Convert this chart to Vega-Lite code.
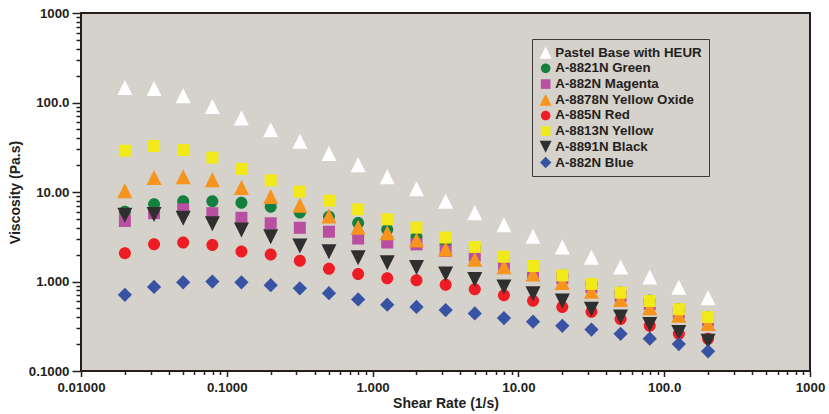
{
  "$schema": "https://vega.github.io/schema/vega-lite/v6.json",
  "width": 729,
  "height": 358,
  "autosize": {"type": "none"},
  "padding": {"left": 81, "top": 13, "right": 19, "bottom": 43},
  "background": "#ffffff",
  "config": {
    "view": {"fill": "#d5d1cb", "stroke": "#231f20", "strokeWidth": 2},
    "font": "Liberation Sans",
    "axis": {
      "grid": false,
      "domain": false,
      "labelFlush": false,
      "labelOverlap": false,
      "tickColor": "#231f20",
      "tickWidth": 1.5,
      "labelFont": "Liberation Sans",
      "labelFontSize": 13.3,
      "labelFontWeight": "bold",
      "labelColor": "#231f20",
      "titleFont": "Liberation Sans",
      "titleFontSize": 14,
      "titleFontWeight": "bold",
      "titleColor": "#231f20"
    }
  },
  "data": {
    "values": [
      {"series": "Pastel Base with HEUR", "rate": 0.02, "viscosity": 147},
      {"series": "Pastel Base with HEUR", "rate": 0.0317, "viscosity": 143},
      {"series": "Pastel Base with HEUR", "rate": 0.0502, "viscosity": 119},
      {"series": "Pastel Base with HEUR", "rate": 0.0796, "viscosity": 90},
      {"series": "Pastel Base with HEUR", "rate": 0.126, "viscosity": 67},
      {"series": "Pastel Base with HEUR", "rate": 0.2, "viscosity": 49.7},
      {"series": "Pastel Base with HEUR", "rate": 0.317, "viscosity": 37},
      {"series": "Pastel Base with HEUR", "rate": 0.502, "viscosity": 27},
      {"series": "Pastel Base with HEUR", "rate": 0.796, "viscosity": 20.1},
      {"series": "Pastel Base with HEUR", "rate": 1.26, "viscosity": 14.8},
      {"series": "Pastel Base with HEUR", "rate": 2, "viscosity": 10.9},
      {"series": "Pastel Base with HEUR", "rate": 3.17, "viscosity": 7.9},
      {"series": "Pastel Base with HEUR", "rate": 5.02, "viscosity": 5.86},
      {"series": "Pastel Base with HEUR", "rate": 7.96, "viscosity": 4.3},
      {"series": "Pastel Base with HEUR", "rate": 12.6, "viscosity": 3.2},
      {"series": "Pastel Base with HEUR", "rate": 20, "viscosity": 2.43},
      {"series": "Pastel Base with HEUR", "rate": 31.7, "viscosity": 1.87},
      {"series": "Pastel Base with HEUR", "rate": 50.2, "viscosity": 1.45},
      {"series": "Pastel Base with HEUR", "rate": 79.6, "viscosity": 1.12},
      {"series": "Pastel Base with HEUR", "rate": 126, "viscosity": 0.86},
      {"series": "Pastel Base with HEUR", "rate": 200, "viscosity": 0.66},

      {"series": "A-8821N Green", "rate": 0.02, "viscosity": 6.0},
      {"series": "A-8821N Green", "rate": 0.0317, "viscosity": 7.3},
      {"series": "A-8821N Green", "rate": 0.0502, "viscosity": 7.9},
      {"series": "A-8821N Green", "rate": 0.0796, "viscosity": 7.9},
      {"series": "A-8821N Green", "rate": 0.126, "viscosity": 7.6},
      {"series": "A-8821N Green", "rate": 0.2, "viscosity": 6.85},
      {"series": "A-8821N Green", "rate": 0.317, "viscosity": 5.9},
      {"series": "A-8821N Green", "rate": 0.502, "viscosity": 5.3},
      {"series": "A-8821N Green", "rate": 0.796, "viscosity": 4.5},
      {"series": "A-8821N Green", "rate": 1.26, "viscosity": 3.8},
      {"series": "A-8821N Green", "rate": 2, "viscosity": 3.17},
      {"series": "A-8821N Green", "rate": 3.17, "viscosity": 2.6},
      {"series": "A-8821N Green", "rate": 5.02, "viscosity": 2.38},
      {"series": "A-8821N Green", "rate": 7.96, "viscosity": 1.86},
      {"series": "A-8821N Green", "rate": 12.6, "viscosity": 1.46},
      {"series": "A-8821N Green", "rate": 20, "viscosity": 1.16},
      {"series": "A-8821N Green", "rate": 31.7, "viscosity": 0.93},
      {"series": "A-8821N Green", "rate": 50.2, "viscosity": 0.75},
      {"series": "A-8821N Green", "rate": 79.6, "viscosity": 0.61},
      {"series": "A-8821N Green", "rate": 126, "viscosity": 0.49},
      {"series": "A-8821N Green", "rate": 200, "viscosity": 0.4},

      {"series": "A-882N Magenta", "rate": 0.02, "viscosity": 4.74},
      {"series": "A-882N Magenta", "rate": 0.0317, "viscosity": 5.8},
      {"series": "A-882N Magenta", "rate": 0.0502, "viscosity": 6.4},
      {"series": "A-882N Magenta", "rate": 0.0796, "viscosity": 5.8},
      {"series": "A-882N Magenta", "rate": 0.126, "viscosity": 5.15},
      {"series": "A-882N Magenta", "rate": 0.2, "viscosity": 4.47},
      {"series": "A-882N Magenta", "rate": 0.317, "viscosity": 3.98},
      {"series": "A-882N Magenta", "rate": 0.502, "viscosity": 3.6},
      {"series": "A-882N Magenta", "rate": 0.796, "viscosity": 3.02},
      {"series": "A-882N Magenta", "rate": 1.26, "viscosity": 2.73},
      {"series": "A-882N Magenta", "rate": 2, "viscosity": 2.6},
      {"series": "A-882N Magenta", "rate": 3.17, "viscosity": 2.2},
      {"series": "A-882N Magenta", "rate": 5.02, "viscosity": 1.95},
      {"series": "A-882N Magenta", "rate": 7.96, "viscosity": 1.55},
      {"series": "A-882N Magenta", "rate": 12.6, "viscosity": 1.27},
      {"series": "A-882N Magenta", "rate": 20, "viscosity": 1.09},
      {"series": "A-882N Magenta", "rate": 31.7, "viscosity": 0.87},
      {"series": "A-882N Magenta", "rate": 50.2, "viscosity": 0.69},
      {"series": "A-882N Magenta", "rate": 79.6, "viscosity": 0.56},
      {"series": "A-882N Magenta", "rate": 126, "viscosity": 0.45},
      {"series": "A-882N Magenta", "rate": 200, "viscosity": 0.37},

      {"series": "A-8878N Yellow Oxide", "rate": 0.02, "viscosity": 10.3},
      {"series": "A-8878N Yellow Oxide", "rate": 0.0317, "viscosity": 14.5},
      {"series": "A-8878N Yellow Oxide", "rate": 0.0502, "viscosity": 14.8},
      {"series": "A-8878N Yellow Oxide", "rate": 0.0796, "viscosity": 13.7},
      {"series": "A-8878N Yellow Oxide", "rate": 0.126, "viscosity": 11.2},
      {"series": "A-8878N Yellow Oxide", "rate": 0.2, "viscosity": 8.9},
      {"series": "A-8878N Yellow Oxide", "rate": 0.317, "viscosity": 7.1},
      {"series": "A-8878N Yellow Oxide", "rate": 0.502, "viscosity": 5.4},
      {"series": "A-8878N Yellow Oxide", "rate": 0.796, "viscosity": 4.04},
      {"series": "A-8878N Yellow Oxide", "rate": 1.26, "viscosity": 3.5},
      {"series": "A-8878N Yellow Oxide", "rate": 2, "viscosity": 2.91},
      {"series": "A-8878N Yellow Oxide", "rate": 3.17, "viscosity": 2.31},
      {"series": "A-8878N Yellow Oxide", "rate": 5.02, "viscosity": 1.77},
      {"series": "A-8878N Yellow Oxide", "rate": 7.96, "viscosity": 1.46},
      {"series": "A-8878N Yellow Oxide", "rate": 12.6, "viscosity": 1.21},
      {"series": "A-8878N Yellow Oxide", "rate": 20, "viscosity": 0.975},
      {"series": "A-8878N Yellow Oxide", "rate": 31.7, "viscosity": 0.78},
      {"series": "A-8878N Yellow Oxide", "rate": 50.2, "viscosity": 0.63},
      {"series": "A-8878N Yellow Oxide", "rate": 79.6, "viscosity": 0.51},
      {"series": "A-8878N Yellow Oxide", "rate": 126, "viscosity": 0.42},
      {"series": "A-8878N Yellow Oxide", "rate": 200, "viscosity": 0.34},

      {"series": "A-885N Red", "rate": 0.02, "viscosity": 2.07},
      {"series": "A-885N Red", "rate": 0.0317, "viscosity": 2.61},
      {"series": "A-885N Red", "rate": 0.0502, "viscosity": 2.73},
      {"series": "A-885N Red", "rate": 0.0796, "viscosity": 2.55},
      {"series": "A-885N Red", "rate": 0.126, "viscosity": 2.17},
      {"series": "A-885N Red", "rate": 0.2, "viscosity": 2.0},
      {"series": "A-885N Red", "rate": 0.317, "viscosity": 1.7},
      {"series": "A-885N Red", "rate": 0.502, "viscosity": 1.39},
      {"series": "A-885N Red", "rate": 0.796, "viscosity": 1.21},
      {"series": "A-885N Red", "rate": 1.26, "viscosity": 1.09},
      {"series": "A-885N Red", "rate": 2, "viscosity": 1.03},
      {"series": "A-885N Red", "rate": 3.17, "viscosity": 0.92},
      {"series": "A-885N Red", "rate": 5.02, "viscosity": 0.82},
      {"series": "A-885N Red", "rate": 7.96, "viscosity": 0.7},
      {"series": "A-885N Red", "rate": 12.6, "viscosity": 0.61},
      {"series": "A-885N Red", "rate": 20, "viscosity": 0.52},
      {"series": "A-885N Red", "rate": 31.7, "viscosity": 0.46},
      {"series": "A-885N Red", "rate": 50.2, "viscosity": 0.38},
      {"series": "A-885N Red", "rate": 79.6, "viscosity": 0.32},
      {"series": "A-885N Red", "rate": 126, "viscosity": 0.26},
      {"series": "A-885N Red", "rate": 200, "viscosity": 0.23},

      {"series": "A-8813N Yellow", "rate": 0.02, "viscosity": 28.9},
      {"series": "A-8813N Yellow", "rate": 0.0317, "viscosity": 32.7},
      {"series": "A-8813N Yellow", "rate": 0.0502, "viscosity": 29.4},
      {"series": "A-8813N Yellow", "rate": 0.0796, "viscosity": 24.2},
      {"series": "A-8813N Yellow", "rate": 0.126, "viscosity": 18.1},
      {"series": "A-8813N Yellow", "rate": 0.2, "viscosity": 13.5},
      {"series": "A-8813N Yellow", "rate": 0.317, "viscosity": 10.1},
      {"series": "A-8813N Yellow", "rate": 0.502, "viscosity": 8.0},
      {"series": "A-8813N Yellow", "rate": 0.796, "viscosity": 6.4},
      {"series": "A-8813N Yellow", "rate": 1.26, "viscosity": 4.95},
      {"series": "A-8813N Yellow", "rate": 2, "viscosity": 4.0},
      {"series": "A-8813N Yellow", "rate": 3.17, "viscosity": 3.1},
      {"series": "A-8813N Yellow", "rate": 5.02, "viscosity": 2.43},
      {"series": "A-8813N Yellow", "rate": 7.96, "viscosity": 1.89},
      {"series": "A-8813N Yellow", "rate": 12.6, "viscosity": 1.49},
      {"series": "A-8813N Yellow", "rate": 20, "viscosity": 1.17},
      {"series": "A-8813N Yellow", "rate": 31.7, "viscosity": 0.94},
      {"series": "A-8813N Yellow", "rate": 50.2, "viscosity": 0.75},
      {"series": "A-8813N Yellow", "rate": 79.6, "viscosity": 0.605},
      {"series": "A-8813N Yellow", "rate": 126, "viscosity": 0.49},
      {"series": "A-8813N Yellow", "rate": 200, "viscosity": 0.4},

      {"series": "A-8891N Black", "rate": 0.02, "viscosity": 5.5},
      {"series": "A-8891N Black", "rate": 0.0317, "viscosity": 5.6},
      {"series": "A-8891N Black", "rate": 0.0502, "viscosity": 5.08},
      {"series": "A-8891N Black", "rate": 0.0796, "viscosity": 4.43},
      {"series": "A-8891N Black", "rate": 0.126, "viscosity": 3.76},
      {"series": "A-8891N Black", "rate": 0.2, "viscosity": 3.16},
      {"series": "A-8891N Black", "rate": 0.317, "viscosity": 2.5},
      {"series": "A-8891N Black", "rate": 0.502, "viscosity": 2.15},
      {"series": "A-8891N Black", "rate": 0.796, "viscosity": 1.84},
      {"series": "A-8891N Black", "rate": 1.26, "viscosity": 1.62},
      {"series": "A-8891N Black", "rate": 2, "viscosity": 1.43},
      {"series": "A-8891N Black", "rate": 3.17, "viscosity": 1.21},
      {"series": "A-8891N Black", "rate": 5.02, "viscosity": 1.05},
      {"series": "A-8891N Black", "rate": 7.96, "viscosity": 0.87},
      {"series": "A-8891N Black", "rate": 12.6, "viscosity": 0.73},
      {"series": "A-8891N Black", "rate": 20, "viscosity": 0.605},
      {"series": "A-8891N Black", "rate": 31.7, "viscosity": 0.49},
      {"series": "A-8891N Black", "rate": 50.2, "viscosity": 0.4},
      {"series": "A-8891N Black", "rate": 79.6, "viscosity": 0.33},
      {"series": "A-8891N Black", "rate": 126, "viscosity": 0.27},
      {"series": "A-8891N Black", "rate": 200, "viscosity": 0.215},

      {"series": "A-882N Blue", "rate": 0.02, "viscosity": 0.71},
      {"series": "A-882N Blue", "rate": 0.0317, "viscosity": 0.87},
      {"series": "A-882N Blue", "rate": 0.0502, "viscosity": 0.98},
      {"series": "A-882N Blue", "rate": 0.0796, "viscosity": 1.0},
      {"series": "A-882N Blue", "rate": 0.126, "viscosity": 0.98},
      {"series": "A-882N Blue", "rate": 0.2, "viscosity": 0.91},
      {"series": "A-882N Blue", "rate": 0.317, "viscosity": 0.84},
      {"series": "A-882N Blue", "rate": 0.502, "viscosity": 0.74},
      {"series": "A-882N Blue", "rate": 0.796, "viscosity": 0.63},
      {"series": "A-882N Blue", "rate": 1.26, "viscosity": 0.55},
      {"series": "A-882N Blue", "rate": 2, "viscosity": 0.52},
      {"series": "A-882N Blue", "rate": 3.17, "viscosity": 0.48},
      {"series": "A-882N Blue", "rate": 5.02, "viscosity": 0.44},
      {"series": "A-882N Blue", "rate": 7.96, "viscosity": 0.39},
      {"series": "A-882N Blue", "rate": 12.6, "viscosity": 0.356},
      {"series": "A-882N Blue", "rate": 20, "viscosity": 0.32},
      {"series": "A-882N Blue", "rate": 31.7, "viscosity": 0.29},
      {"series": "A-882N Blue", "rate": 50.2, "viscosity": 0.26},
      {"series": "A-882N Blue", "rate": 79.6, "viscosity": 0.23},
      {"series": "A-882N Blue", "rate": 126, "viscosity": 0.2},
      {"series": "A-882N Blue", "rate": 200, "viscosity": 0.166}
    ]
  },
  "layer": [
    {
      "mark": {"type": "point", "filled": true, "opacity": 1, "size": 225, "strokeWidth": 0},
      "encoding": {
        "x": {
          "field": "rate",
          "type": "quantitative",
          "scale": {"type": "log", "domain": [0.01, 1000], "nice": false},
          "axis": {
            "orient": "bottom",
            "values": [0.01, 0.1, 1, 10, 100, 1000],
            "format": ".4r",
            "tickSize": 5.5,
            "labelPadding": 3.5,
            "title": "Shear Rate (1/s)",
            "titlePadding": 3
          }
        },
        "y": {
          "field": "viscosity",
          "type": "quantitative",
          "scale": {"type": "log", "domain": [0.1, 1000], "nice": false},
          "axis": {
            "orient": "left",
            "values": [0.1, 1, 10, 100, 1000],
            "format": ".4r",
            "tickSize": 9,
            "labelPadding": 3,
            "title": "Viscosity (Pa.s)",
            "titlePadding": 5.5
          }
        },
        "color": {
          "field": "series",
          "type": "nominal",
          "scale": {
            "domain": ["Pastel Base with HEUR", "A-8821N Green", "A-882N Magenta", "A-8878N Yellow Oxide", "A-885N Red", "A-8813N Yellow", "A-8891N Black", "A-882N Blue"],
            "range": ["#ffffff", "#13803f", "#b94fa0", "#f7941e", "#ee1d25", "#f1e91a", "#2f2f2f", "#3853a3"]
          },
          "legend": {
            "title": null,
            "orient": "none",
            "legendX": 451,
            "legendY": 26,
            "fillColor": "#d5d1cb",
            "strokeColor": "#3a3a3a",
            "padding": 7,
            "rowPadding": 1.7,
            "labelOffset": 3,
            "labelFont": "Liberation Sans",
            "labelFontSize": 13.3,
            "labelFontWeight": "bold",
            "labelColor": "#231f20",
            "symbolSize": 144,
            "symbolStrokeWidth": 0
          }
        },
        "shape": {
          "field": "series",
          "type": "nominal",
          "scale": {
            "domain": ["Pastel Base with HEUR", "A-8821N Green", "A-882N Magenta", "A-8878N Yellow Oxide", "A-885N Red", "A-8813N Yellow", "A-8891N Black", "A-882N Blue"],
            "range": [
              "M0,-1L1,1L-1,1Z",
              "M0.8,0A0.8,0.8,0,1,1,-0.8,0A0.8,0.8,0,1,1,0.8,0Z",
              "M-0.8,-0.8L0.8,-0.8L0.8,0.8L-0.8,0.8Z",
              "M0,-1L1,1L-1,1Z",
              "M0.8,0A0.8,0.8,0,1,1,-0.8,0A0.8,0.8,0,1,1,0.8,0Z",
              "M-0.8,-0.8L0.8,-0.8L0.8,0.8L-0.8,0.8Z",
              "M-1,-1L1,-1L0,1Z",
              "M0,-0.95L0.95,0L0,0.95L-0.95,0Z"
            ]
          }
        }
      }
    },
    {
      "mark": {"type": "point", "opacity": 0},
      "encoding": {
        "x": {
          "field": "rate",
          "type": "quantitative",
          "axis": {
            "orient": "bottom",
            "values": [0.02, 0.03, 0.04, 0.05, 0.06, 0.07, 0.08, 0.09, 0.2, 0.3, 0.4, 0.5, 0.6, 0.7, 0.8, 0.9, 2, 3, 4, 5, 6, 7, 8, 9, 20, 30, 40, 50, 60, 70, 80, 90, 200, 300, 400, 500, 600, 700, 800, 900],
            "labels": false,
            "tickSize": 3.5,
            "title": null
          }
        },
        "y": {
          "field": "viscosity",
          "type": "quantitative",
          "axis": {
            "orient": "left",
            "values": [0.2, 0.3, 0.4, 0.5, 0.6, 0.7, 0.8, 0.9, 2, 3, 4, 5, 6, 7, 8, 9, 20, 30, 40, 50, 60, 70, 80, 90, 200, 300, 400, 500, 600, 700, 800, 900],
            "labels": false,
            "tickSize": 5,
            "title": null
          }
        }
      }
    }
  ],
  "resolve": {"axis": {"x": "independent", "y": "independent"}}
}
